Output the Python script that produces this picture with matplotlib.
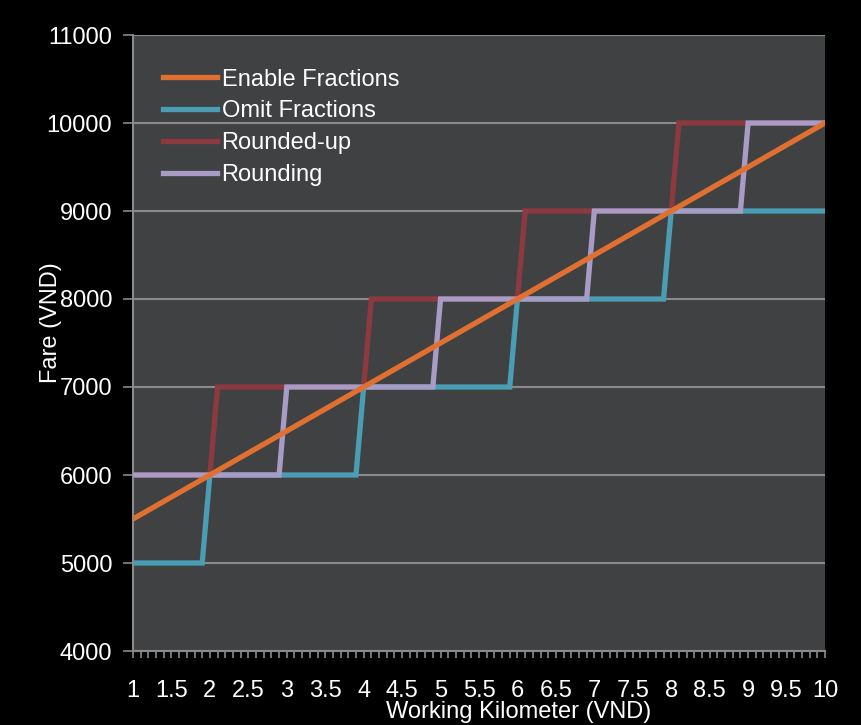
import matplotlib.pyplot as plt
from matplotlib.ticker import MultipleLocator

plt.rcParams['font.family'] = ['Liberation Sans', 'DejaVu Sans']

# Working distance in km, sampled every 0.1 km
km = [
    1.0, 1.1, 1.2, 1.3, 1.4, 1.5, 1.6, 1.7, 1.8, 1.9,
    2.0, 2.1, 2.2, 2.3, 2.4, 2.5, 2.6, 2.7, 2.8, 2.9,
    3.0, 3.1, 3.2, 3.3, 3.4, 3.5, 3.6, 3.7, 3.8, 3.9,
    4.0, 4.1, 4.2, 4.3, 4.4, 4.5, 4.6, 4.7, 4.8, 4.9,
    5.0, 5.1, 5.2, 5.3, 5.4, 5.5, 5.6, 5.7, 5.8, 5.9,
    6.0, 6.1, 6.2, 6.3, 6.4, 6.5, 6.6, 6.7, 6.8, 6.9,
    7.0, 7.1, 7.2, 7.3, 7.4, 7.5, 7.6, 7.7, 7.8, 7.9,
    8.0, 8.1, 8.2, 8.3, 8.4, 8.5, 8.6, 8.7, 8.8, 8.9,
    9.0, 9.1, 9.2, 9.3, 9.4, 9.5, 9.6, 9.7, 9.8, 9.9,
    10.0,
]

enable_fractions = [
    5500, 5550, 5600, 5650, 5700, 5750, 5800, 5850, 5900, 5950,
    6000, 6050, 6100, 6150, 6200, 6250, 6300, 6350, 6400, 6450,
    6500, 6550, 6600, 6650, 6700, 6750, 6800, 6850, 6900, 6950,
    7000, 7050, 7100, 7150, 7200, 7250, 7300, 7350, 7400, 7450,
    7500, 7550, 7600, 7650, 7700, 7750, 7800, 7850, 7900, 7950,
    8000, 8050, 8100, 8150, 8200, 8250, 8300, 8350, 8400, 8450,
    8500, 8550, 8600, 8650, 8700, 8750, 8800, 8850, 8900, 8950,
    9000, 9050, 9100, 9150, 9200, 9250, 9300, 9350, 9400, 9450,
    9500, 9550, 9600, 9650, 9700, 9750, 9800, 9850, 9900, 9950,
    10000,
]

omit_fractions = [
    5000, 5000, 5000, 5000, 5000, 5000, 5000, 5000, 5000, 5000,
    6000, 6000, 6000, 6000, 6000, 6000, 6000, 6000, 6000, 6000,
    6000, 6000, 6000, 6000, 6000, 6000, 6000, 6000, 6000, 6000,
    7000, 7000, 7000, 7000, 7000, 7000, 7000, 7000, 7000, 7000,
    7000, 7000, 7000, 7000, 7000, 7000, 7000, 7000, 7000, 7000,
    8000, 8000, 8000, 8000, 8000, 8000, 8000, 8000, 8000, 8000,
    8000, 8000, 8000, 8000, 8000, 8000, 8000, 8000, 8000, 8000,
    9000, 9000, 9000, 9000, 9000, 9000, 9000, 9000, 9000, 9000,
    9000, 9000, 9000, 9000, 9000, 9000, 9000, 9000, 9000, 9000,
    9000,
]

rounded_up = [
    6000, 6000, 6000, 6000, 6000, 6000, 6000, 6000, 6000, 6000,
    6000, 7000, 7000, 7000, 7000, 7000, 7000, 7000, 7000, 7000,
    7000, 7000, 7000, 7000, 7000, 7000, 7000, 7000, 7000, 7000,
    7000, 8000, 8000, 8000, 8000, 8000, 8000, 8000, 8000, 8000,
    8000, 8000, 8000, 8000, 8000, 8000, 8000, 8000, 8000, 8000,
    8000, 9000, 9000, 9000, 9000, 9000, 9000, 9000, 9000, 9000,
    9000, 9000, 9000, 9000, 9000, 9000, 9000, 9000, 9000, 9000,
    9000, 10000, 10000, 10000, 10000, 10000, 10000, 10000, 10000, 10000,
    10000, 10000, 10000, 10000, 10000, 10000, 10000, 10000, 10000, 10000,
    10000,
]

rounding = [
    6000, 6000, 6000, 6000, 6000, 6000, 6000, 6000, 6000, 6000,
    6000, 6000, 6000, 6000, 6000, 6000, 6000, 6000, 6000, 6000,
    7000, 7000, 7000, 7000, 7000, 7000, 7000, 7000, 7000, 7000,
    7000, 7000, 7000, 7000, 7000, 7000, 7000, 7000, 7000, 7000,
    8000, 8000, 8000, 8000, 8000, 8000, 8000, 8000, 8000, 8000,
    8000, 8000, 8000, 8000, 8000, 8000, 8000, 8000, 8000, 8000,
    9000, 9000, 9000, 9000, 9000, 9000, 9000, 9000, 9000, 9000,
    9000, 9000, 9000, 9000, 9000, 9000, 9000, 9000, 9000, 9000,
    10000, 10000, 10000, 10000, 10000, 10000, 10000, 10000, 10000, 10000,
    10000,
]

x_ticks = [1, 1.5, 2, 2.5, 3, 3.5, 4, 4.5, 5, 5.5, 6, 6.5, 7, 7.5, 8, 8.5, 9, 9.5, 10]
x_labels = ["1", "1.5", "2", "2.5", "3", "3.5", "4", "4.5", "5", "5.5",
            "6", "6.5", "7", "7.5", "8", "8.5", "9", "9.5", "10"]

W, H = 862, 725
fig = plt.figure(figsize=(W / 100, H / 100), dpi=100, facecolor="black")
ax = fig.add_axes([133 / W, 74 / H, 692 / W, 616 / H])
ax.set_facecolor("#404143")

lw = 3.8
ax.plot(km, omit_fractions, color="#4a9db3", lw=lw, label="Omit Fractions", zorder=2,
        solid_joinstyle="miter")
ax.plot(km, rounded_up, color="#8c3a3f", lw=lw, label="Rounded-up", zorder=3,
        solid_joinstyle="miter")
ax.plot(km, rounding, color="#a89cc6", lw=lw, label="Rounding", zorder=4,
        solid_joinstyle="miter")
ax.plot(km, enable_fractions, color="#e07030", lw=lw, label="Enable Fractions", zorder=5)

ax.set_xlim(1, 10)
ax.set_ylim(4000, 11000)
ax.yaxis.set_major_locator(MultipleLocator(1000))
ax.set_xticks(x_ticks)
ax.set_xticklabels(x_labels)
ax.xaxis.set_minor_locator(MultipleLocator(0.1))

ax.grid(axis="y", color="#8a8a8a", lw=1.5, zorder=1)
ax.set_axisbelow(True)
for side in ("top", "right"):
    ax.spines[side].set_visible(False)
for side in ("left", "bottom"):
    ax.spines[side].set_color("#8a8a8a")
    ax.spines[side].set_linewidth(1.5)

ax.tick_params(axis="both", which="both", colors="#8a8a8a", labelcolor="white",
               labelsize=17, width=1.2)
ax.tick_params(axis="y", length=7, pad=8)
ax.tick_params(axis="x", which="both", length=5, pad=16)

ax.set_xlabel("Working Kilometer (VND)", color="white", fontsize=17)
ax.xaxis.set_label_coords((519 - 133) / 692, (651 - 701) / 616)
ax.set_ylabel("Fare (VND)", color="white", fontsize=17)
ax.yaxis.set_label_coords((62 - 133) / 692, (651 - 323) / 616)

handles, labels = ax.get_legend_handles_labels()
order = [3, 0, 1, 2]
leg = ax.legend([handles[i] for i in order], [labels[i] for i in order],
                loc="upper left", bbox_to_anchor=(0.012, 0.98), frameon=False,
                fontsize=17, labelcolor="white", handlelength=2.3,
                handletextpad=0.2, labelspacing=0.42)

fig.savefig("out.png", dpi=100, facecolor="black")
